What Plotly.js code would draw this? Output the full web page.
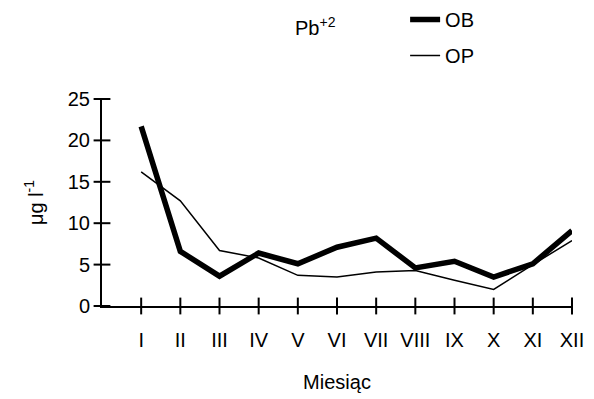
<!DOCTYPE html>
<html>
<head>
<meta charset="utf-8">
<script src="https://cdn.plot.ly/plotly-3.0.1.min.js"></script>
<style>html,body{margin:0;padding:0;background:#fff;}#chart{width:594px;height:399px;}</style>
</head>
<body>
<div id="chart"></div>
<script>
const months = ["I","II","III","IV","V","VI","VII","VIII","IX","X","XI","XII"];
const obValues = [21.7, 6.6, 3.6, 6.4, 5.1, 7.1, 8.2, 4.6, 5.4, 3.5, 5.1, 9.1];
const opValues = [16.2, 12.7, 6.7, 5.8, 3.7, 3.5, 4.1, 4.3, 3.1, 2.0, 5.0, 7.9];
const yTicks = [0, 5, 10, 15, 20, 25];

const idx = months.map((m, i) => i);
const xMin = -1, xMax = 11;
const font = "Liberation Sans, Arial, sans-serif";
const fs = 20;

const tickMarker = (sym) => ({symbol: sym, size: 12, color: "#000", line: {color: "#000", width: 2}});

const traces = [
  {x: idx, y: obValues, name: "OB", mode: "lines", line: {color: "#000", width: 5.5}, legendgroup: "a"},
  {x: idx, y: opValues, name: "OP", mode: "lines", line: {color: "#000", width: 1.5}, legendgroup: "b"},
  // cross-shaped tick marks (through both sides of the axis lines)
  {x: idx, y: idx.map(() => yTicks[0]), mode: "markers", marker: tickMarker("line-ns"),
   cliponaxis: false, showlegend: false, hoverinfo: "skip"},
  {x: yTicks.map(() => xMin), y: yTicks, mode: "markers", marker: tickMarker("line-ew"),
   cliponaxis: false, showlegend: false, hoverinfo: "skip"}
];

const layout = {
  width: 594, height: 399,
  margin: {l: 102, r: 22, t: 99, b: 93, autoexpand: false},
  paper_bgcolor: "#fff", plot_bgcolor: "#fff",
  font: {family: font, size: fs, color: "#000"},
  showlegend: true,
  legend: {xref: "container", yref: "container", x: 0.682, xanchor: "left", y: 1.02, yanchor: "top",
           traceorder: "grouped", tracegroupgap: 7,
           font: {family: font, size: fs, color: "#000"}, bgcolor: "rgba(0,0,0,0)"},
  xaxis: {
    range: [xMin, xMax], tickvals: idx, ticktext: months,
    showline: true, linecolor: "#000", linewidth: 2,
    ticks: "outside", ticklen: 6, tickcolor: "rgba(0,0,0,0)", ticklabelstandoff: 9,
    showgrid: false, zeroline: false, fixedrange: true,
    title: {text: "Miesiąc", font: {family: font, size: fs}, standoff: 25}
  },
  yaxis: {
    range: [0, 25], tickvals: yTicks,
    showline: true, linecolor: "#000", linewidth: 2,
    ticks: "outside", ticklen: 6, tickcolor: "rgba(0,0,0,0)",
    showgrid: false, zeroline: false, fixedrange: true,
    title: {text: "μg l<sup>-1</sup>", font: {family: font, size: fs}, standoff: 19}
  },
  annotations: [
    {text: "Pb<sup>+2</sup>", xref: "paper", yref: "paper", x: 0.455, y: 1.35, xanchor: "center", yanchor: "middle",
     showarrow: false, font: {family: font, size: fs, color: "#000"}}
  ]
};

Plotly.newPlot("chart", traces, layout, {displayModeBar: false, staticPlot: true});
</script>
</body>
</html>
